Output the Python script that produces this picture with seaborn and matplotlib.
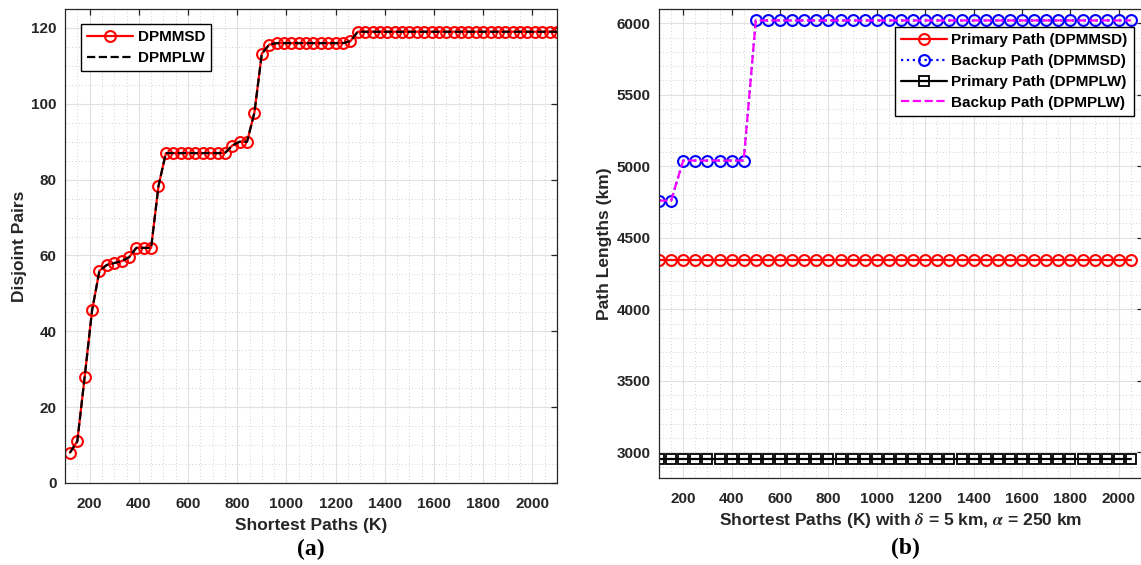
import matplotlib
matplotlib.use("Agg")
import matplotlib.pyplot as plt
import pandas as pd
import seaborn as sns
from matplotlib.ticker import MultipleLocator

# ---- (a) disjoint pairs versus number of shortest paths K ----
k_pairs = list(range(120, 2101, 30))
dpmmsd_pairs = [8, 11, 28, 45.5, 56, 57.5, 58, 58.5, 59.5, 62, 62, 62, 78.3,
                87, 87, 87, 87, 87, 87, 87, 87, 87,
                89, 90, 90, 97.7, 113.2, 115.6,
                116, 116, 116, 116, 116, 116, 116, 116, 116, 116, 116.5,
                119, 119, 119, 119, 119, 119, 119, 119, 119, 119,
                119, 119, 119, 119, 119, 119, 119, 119, 119, 119,
                119, 119, 119, 119, 119, 119, 119, 119]
dpmplw_pairs = list(dpmmsd_pairs)

# ---- (b) path lengths (km) versus K ----
k_paths = list(range(100, 2051, 50))
primary_msd = [4345] * 40
backup_msd = [4760, 4760, 5040, 5040, 5040, 5040, 5040, 5040] + [6020] * 32
primary_plw = [2955] * 40
backup_plw = list(backup_msd)

W, H = 1141, 565
INK = "#262626"

sns.set_theme(style="whitegrid")
plt.rcParams["font.family"] = ["Liberation Sans", "DejaVu Sans"]
plt.rcParams["font.weight"] = "bold"
plt.rcParams["axes.labelweight"] = "bold"
plt.rcParams["mathtext.fontset"] = "stix"

fig = plt.figure(figsize=(W / 100, H / 100), dpi=100)
fig.patch.set_facecolor("white")
ax1 = fig.add_axes([65 / W, 1 - 483 / H, 492 / W, 474 / H])
ax2 = fig.add_axes([659 / W, 1 - 478 / H, 484 / W, 469 / H])


def style_axes(ax):
    ax.set_facecolor("white")
    for s in ax.spines.values():
        s.set_visible(True)
        s.set_color(INK)
        s.set_linewidth(0.9)
    ax.tick_params(which="major", direction="in", length=4, width=0.9,
                   color=INK, top=True, right=True, labelsize=11,
                   labelcolor=INK)
    ax.tick_params(axis="x", which="major", pad=10)
    ax.tick_params(axis="y", which="major", pad=6)
    ax.tick_params(which="minor", length=0)
    ax.grid(True, which="major", color="#e1e1e1", linewidth=0.8, linestyle="-")
    ax.grid(True, which="minor", color="#c2c2c2", linewidth=0.6,
            linestyle=(0, (1, 3)))
    ax.set_axisbelow(True)


legend_kw = dict(borderaxespad=0, frameon=True, fancybox=False,
                 edgecolor="black", framealpha=1, fontsize=11,
                 handlelength=3, labelspacing=0.45, borderpad=0.4,
                 handletextpad=0.3)

# ---- panel (a) ----
df_a = pd.DataFrame({"K": k_pairs, "DPMMSD": dpmmsd_pairs, "DPMPLW": dpmplw_pairs})
sns.lineplot(data=df_a, x="K", y="DPMMSD", ax=ax1, color="red", linewidth=1.6,
             marker="o", markersize=7.8, markerfacecolor="none",
             markeredgecolor="red", markeredgewidth=1.5, label="DPMMSD",
             estimator=None, sort=False)
sns.lineplot(data=df_a, x="K", y="DPMPLW", ax=ax1, color="black", linewidth=1.6,
             linestyle="--", label="DPMPLW", estimator=None, sort=False)
ax1.set_xlim(100, 2100)
ax1.set_ylim(0, 125)
ax1.xaxis.set_major_locator(MultipleLocator(200))
ax1.xaxis.set_minor_locator(MultipleLocator(50))
ax1.yaxis.set_major_locator(MultipleLocator(20))
ax1.yaxis.set_minor_locator(MultipleLocator(5))
style_axes(ax1)
ax1.set_xlabel("Shortest Paths (K)", fontsize=12.5, color=INK, labelpad=5)
ax1.set_ylabel("Disjoint Pairs", fontsize=12.5, color=INK, labelpad=3)
leg1 = ax1.legend(loc="upper left", bbox_to_anchor=(0.0325, 0.968), **legend_kw)
leg1.get_frame().set_linewidth(1.0)
for t in leg1.get_texts():
    t.set_color("black")

# ---- panel (b) ----
df_b = pd.DataFrame({"K": k_paths, "pm": primary_msd, "bm": backup_msd,
                     "pp": primary_plw, "bp": backup_plw})
sns.lineplot(data=df_b, x="K", y="pm", ax=ax2, color="red", linewidth=1.6,
             marker="o", markersize=7.8, markerfacecolor="none",
             markeredgecolor="red", markeredgewidth=1.5,
             label="Primary Path (DPMMSD)", estimator=None, sort=False)
sns.lineplot(data=df_b, x="K", y="bm", ax=ax2, color="blue", linewidth=1.6,
             linestyle=":", marker="o", markersize=7.8, markerfacecolor="none",
             markeredgecolor="blue", markeredgewidth=1.5,
             label="Backup Path (DPMMSD)", estimator=None, sort=False)
sns.lineplot(data=df_b, x="K", y="pp", ax=ax2, color="black", linewidth=1.6,
             marker="s", markersize=7, markerfacecolor="none",
             markeredgecolor="black", markeredgewidth=1.3,
             label="Primary Path (DPMPLW)", estimator=None, sort=False)
sns.lineplot(data=df_b, x="K", y="bp", ax=ax2, color="magenta", linewidth=1.6,
             linestyle="--", label="Backup Path (DPMPLW)", estimator=None,
             sort=False)
ax2.set_xlim(100, 2100)
ax2.set_ylim(2820, 6100)
ax2.xaxis.set_major_locator(MultipleLocator(200))
ax2.xaxis.set_minor_locator(MultipleLocator(50))
ax2.yaxis.set_major_locator(MultipleLocator(500))
ax2.yaxis.set_minor_locator(MultipleLocator(100))
style_axes(ax2)
ax2.set_xlabel(r"Shortest Paths (K) with $\delta$ = 5 km, $\alpha$ = 250 km",
               fontsize=12.5, color=INK, labelpad=4)
ax2.set_ylabel("Path Lengths (km)", fontsize=12.5, color=INK, labelpad=3)
leg2 = ax2.legend(loc="upper right", bbox_to_anchor=(0.981, 0.9616), **legend_kw)
leg2.get_frame().set_linewidth(1.0)
for t in leg2.get_texts():
    t.set_color("black")

# panel captions
fig.text(311 / W, 1 - 549 / H, "(a)", ha="center", va="center", fontsize=17,
         fontweight="bold", family="Liberation Serif", color="black")
fig.text(905 / W, 1 - 548 / H, "(b)", ha="center", va="center", fontsize=17,
         fontweight="bold", family="Liberation Serif", color="black")

fig.savefig("out.png", dpi=100, facecolor="white")
